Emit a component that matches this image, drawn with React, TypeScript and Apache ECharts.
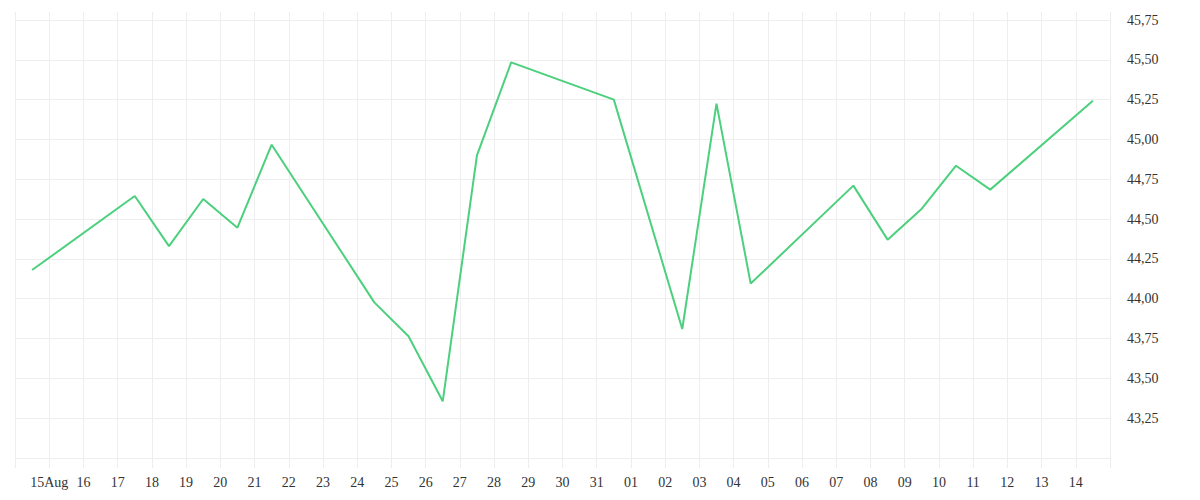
import React, { useEffect, useRef } from 'react';
import * as echarts from 'echarts';

// tick labels on the day boundaries (Aug 14 .. Sep 15)
const dayLabels = [
  '', '15Aug', '16', '17', '18', '19', '20', '21', '22', '23', '24', '25', '26', '27', '28', '29', '30', '31',
  '01', '02', '03', '04', '05', '06', '07', '08', '09', '10', '11', '12', '13', '14', '',
];

// trading days, counted from Aug 14
const pointDays = [0, 3, 4, 5, 6, 7, 10, 11, 12, 13, 14, 17, 19, 20, 21, 24, 25, 26, 27, 28, 31];
const closeValues = [
  44.18, 44.645, 44.33, 44.626, 44.446, 44.967, 43.977, 43.764, 43.356, 44.9, 45.484,
  45.25, 43.81, 45.225, 44.095, 44.71, 44.371, 44.565, 44.835, 44.685, 45.243,
];

const gridColor = '#eeeeee';
const textColor = '#333333';

const App: React.FC = () => {
  const chartRef = useRef<HTMLDivElement>(null);

  useEffect(() => {
    if (!chartRef.current) return;
    const chart = echarts.init(chartRef.current, undefined, { renderer: 'svg' });

    // points sit in the middle of each day
    const lineData = pointDays.map((d, i) => [d + 0.5, closeValues[i]]);

    const xBase = {
      type: 'value',
      min: 0,
      max: dayLabels.length - 1,
      interval: 1,
      axisLine: { show: false },
    };

    chart.setOption({
      animation: false,
      backgroundColor: '#ffffff',
      grid: { left: 15, right: 90, top: 20, bottom: 42 },
      xAxis: [
        {
          ...xBase,
          position: 'bottom',
          axisTick: { show: true, length: 10, lineStyle: { color: gridColor } },
          splitLine: { show: true, lineStyle: { color: gridColor } },
          axisLabel: {
            margin: 17,
            color: textColor,
            fontFamily: 'serif',
            fontSize: 14,
            formatter: (v: number) => dayLabels[Math.round(v)] ?? '',
          },
        },
        {
          ...xBase,
          position: 'top',
          axisTick: { show: true, length: 8, lineStyle: { color: gridColor } },
          splitLine: { show: false },
          axisLabel: { show: false },
        },
      ],
      yAxis: {
        type: 'value',
        position: 'right',
        min: 43,
        max: 45.75,
        interval: 0.25,
        axisLine: { show: false },
        axisTick: { show: false },
        splitLine: { show: true, lineStyle: { color: gridColor } },
        axisLabel: {
          margin: 17,
          color: textColor,
          fontFamily: 'serif',
          fontSize: 14,
          formatter: (v: number) => (v <= 43 ? '' : v.toFixed(2).replace('.', ',')),
        },
      },
      series: [
        {
          type: 'line',
          xAxisIndex: 0,
          data: lineData,
          showSymbol: false,
          symbol: 'none',
          lineStyle: { color: '#4cd07d', width: 2 },
        },
      ],
    });

    return () => chart.dispose();
  }, []);

  return <div ref={chartRef} style={{ position: 'fixed', left: 0, top: 0, width: 1200, height: 500 }} />;
};

export default App;
